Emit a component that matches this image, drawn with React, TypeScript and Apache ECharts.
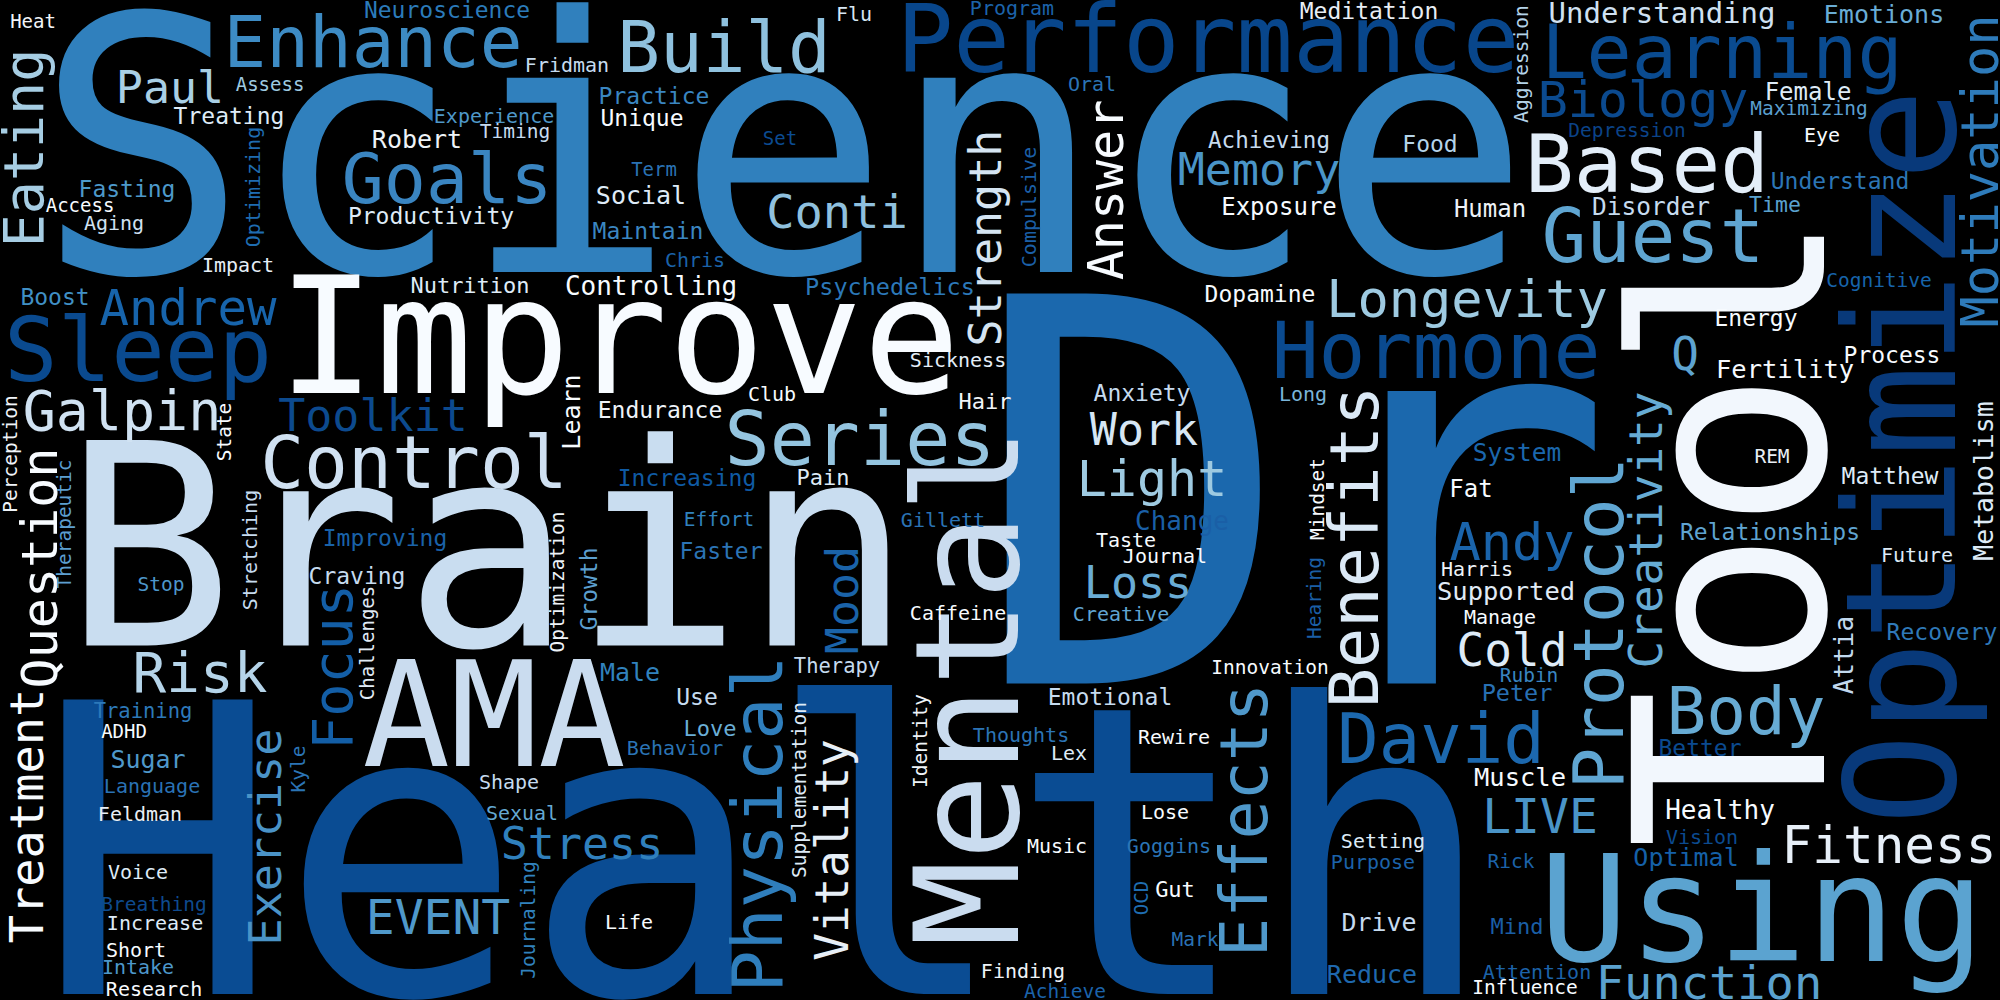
// Nuvem de palavras (Blues sobre fundo preto) desenhada como scatter sem simbolo:
// cada palavra eh um rotulo posicionado pelos eixos (ocultos) 0..2000 x 0..1000.
// Palavras grandes primeiro, pequenas por cima; as verticais sao giradas 90 graus.
import { useEffect, useRef } from 'react'
import * as echarts from 'echarts'

// [palavra, tamanho da fonte, x, y, cor]
type Palavra = [string, number, number, number, string]

const FONTE = '"DejaVu Sans Mono", monospace'

const GRANDES: Palavra[] = [
  ['Science', 355, 783, 149, '#3080bd'],
  ['Health', 404, 766, 854, '#0a4c93'],
  ['Brain', 282, 488, 548, '#c9ddf0'],
  ['Dr', 535, 1293, 498, '#1b68ad'],
  ['Improve', 162, 619, 337, '#f7fbff'],
  ['AMA', 146, 494, 715, '#cadcef'],
  ['Using', 148, 1762, 910, '#5ba3d0'],
  ['Performance', 94, 1208, 39, '#08468b'],
  ['Learning', 75, 1722, 52, '#0a4b90'],
  ['Based', 81, 1647, 164, '#e3eef9'],
  ['Hormone', 78, 1436, 351, '#0a4a8f'],
  ['Sleep', 89, 138, 350, '#0a4a8f'],
  ['Series', 75, 860, 439, '#94c4df'],
  ['Guest', 74, 1653, 236, '#5fa5d1'],
  ['Control', 73, 414, 462, '#d0e1f2'],
  ['Enhance', 71, 373, 42, '#3d8bc4'],
  ['Build', 71, 724, 47, '#8fc1de'],
  ['Goals', 70, 447, 179, '#3a85c1'],
  ['David', 69, 1441, 739, '#1c68ae'],
  ['Body', 66, 1746, 711, '#67abd4'],
]

// palavras grandes escritas de baixo para cima
const VERTICAIS_GRANDES: Palavra[] = [
  ['Tool', 265, 1732, 530, '#f2f7fd'],
  ['Optimize', 153, 1902, 457, '#08397a'],
  ['Mental', 144, 968, 687, '#cadcef'],
  ['Physical', 70, 758, 824, '#2f7ebc'],
  ['Protocol', 69, 1599, 623, '#60a6d2'],
  ['Benefits', 67, 1355, 547, '#dbe9f6'],
  ['Effects', 65, 1244, 820, '#4f98ca'],
]

const MEDIAS: Palavra[] = [
  ['Galpin', 55, 122, 411, '#d0e2f2'],
  ['Risk', 56, 200, 672, '#b5d4e9'],
  ['Longevity', 52, 1467, 299, '#9ecae1'],
  ['Andy', 52, 1512, 542, '#1a64ab'],
  ['Fitness', 51, 1889, 845, '#e7eff8'],
  ['Light', 50, 1152, 479, '#9ecae1'],
  ['Biology', 50, 1643, 100, '#0b4a8f'],
  ['Andrew', 49, 188, 308, '#1764ab'],
  ['EVENT', 48, 438, 917, '#4f98ca'],
  ['LIVE', 48, 1540, 816, '#4a94c7'],
  ['Conti', 47, 837, 211, '#8fc0de'],
  ['Function', 47, 1709, 982, '#5aa1cf'],
  ['Cold', 46, 1512, 650, '#deebf7'],
  ['Q', 46, 1685, 354, '#5ea3d0'],
  ['Paul', 45, 170, 87, '#a9cfe5'],
  ['Memory', 45, 1259, 169, '#4a95c8'],
  ['Toolkit', 45, 373, 415, '#0c4a8e'],
  ['Work', 45, 1144, 429, '#d6e6f4'],
  ['Loss', 45, 1138, 582, '#69acd5'],
  ['Stress', 45, 582, 843, '#3080bd'],
  ['Understanding', 29, 1662, 13, '#cfe1f2'],
]

const PEQUENAS_ESQ: Palavra[] = [
  ['Heat', 19, 33, 21, '#f2f5f9'],
  ['Neuroscience', 23, 447, 10, '#2b7bba'],
  ['Assess', 19, 270, 84, '#9ecae1'],
  ['Treating', 23, 229, 116, '#deebf7'],
  ['Robert', 25, 417, 139, '#eef3f8'],
  ['Fasting', 23, 127, 189, '#4d99ca'],
  ['Access', 19, 80, 205, '#f7fbff'],
  ['Aging', 20, 114, 223, '#d0e1f2'],
  ['Impact', 20, 238, 265, '#e6eef7'],
  ['Productivity', 23, 431, 216, '#deebf7'],
  ['Experience', 20, 494, 116, '#4f98c9'],
  ['Timing', 19.5, 515, 131, '#c6dbef'],
  ['Boost', 23, 55, 297, '#4090c5'],
  ['Nutrition', 22, 470, 285, '#deebf7'],
  ['Fridman', 20, 567, 65, '#c6dbef'],
  ['Flu', 20, 854, 14, '#d6e6f4'],
  ['Practice', 23, 654, 96, '#3a86c1'],
  ['Unique', 23, 642, 118, '#f7fbff'],
  ['Set', 19, 780, 138, '#0b4b91'],
  ['Term', 19, 654, 169, '#2a72b4'],
  ['Social', 25, 641, 195, '#deebf7'],
  ['Maintain', 23, 648, 231, '#3b86c1'],
  ['Chris', 20, 695, 260, '#1b62a8'],
  ['Controlling', 26, 651, 286, '#f7fbff'],
  ['Psychedelics', 23.5, 890, 287, '#2c78b8'],
  ['Improving', 23, 385, 538, '#1a62a8'],
  ['Craving', 23, 357, 576, '#c6dbef'],
  ['Stop', 19.5, 161, 584, '#4d97ca'],
  ['Sickness', 20, 958, 360, '#e3edf7'],
  ['Hair', 22, 985, 401, '#f0f4f8'],
  ['Club', 20, 772, 394, '#f7fbff'],
  ['Endurance', 23, 660, 410, '#eef3f9'],
  ['Increasing', 23, 687, 478, '#0f5aa3'],
  ['Pain', 22, 823, 477, '#deebf7'],
  ['Effort', 19.5, 719, 519, '#3182bd'],
  ['Faster', 23, 721, 551, '#2c74b5'],
  ['Gillett', 20, 943, 520, '#2a72b4'],
  ['Caffeine', 20, 958, 613, '#f7fbff'],
  ['Therapy', 20.5, 837, 666, '#c6dbef'],
  ['Training', 20.5, 143, 711, '#2d79b9'],
  ['ADHD', 19, 124, 731, '#f7fbff'],
  ['Sugar', 25, 148, 759, '#4f98ca'],
  ['Language', 20, 152, 786, '#2a72b4'],
  ['Feldman', 20, 140, 814, '#e8eef5'],
  ['Voice', 20, 138, 872, '#deebf7'],
  ['Breathing', 19.5, 154, 904, '#0e4a8e'],
  ['Increase', 20, 155, 923, '#deebf7'],
  ['Short', 20, 136, 950, '#f7fbff'],
  ['Intake', 20, 138, 967, '#4d97ca'],
  ['Research', 20, 154, 989, '#f7fbff'],
  ['Shape', 20, 509, 782, '#c6dbef'],
  ['Sexual', 20, 522, 813, '#64a9d3'],
  ['Male', 25, 630, 672, '#3182bd'],
  ['Use', 23, 697, 697, '#c6dbef'],
  ['Love', 22, 710, 728, '#6aaed6'],
  ['Behavior', 20, 675, 748, '#2b74b5'],
  ['Life', 20, 629, 922, '#f7fbff'],
]

const PEQUENAS_DIR: Palavra[] = [
  ['Oral', 20, 1092, 84, '#2b74b5'],
  ['Program', 20, 1012, 8, '#1c63aa'],
  ['Meditation', 23, 1369, 11, '#e8eef5'],
  ['Achieving', 22.5, 1269, 140, '#c6dbef'],
  ['Food', 23, 1430, 144, '#b5d4e9'],
  ['Exposure', 24, 1279, 207, '#f7fbff'],
  ['Human', 24, 1490, 209, '#eef3f8'],
  ['Dopamine', 23, 1260, 294, '#f7fbff'],
  ['Emotions', 25, 1884, 14, '#69acd5'],
  ['Female', 24, 1808, 92, '#deebf7'],
  ['Maximizing', 19.5, 1809, 108, '#5b9fcf'],
  ['Depression', 19.5, 1627, 130, '#0b4388'],
  ['Eye', 20, 1822, 135, '#f7fbff'],
  ['Understand', 23, 1840, 181, '#2c76b6'],
  ['Disorder', 24.5, 1651, 206, '#c6dbef'],
  ['Time', 21.5, 1775, 204, '#5aa2cf'],
  ['Cognitive', 19.5, 1879, 280, '#1764ab'],
  ['Energy', 23, 1756, 318, '#f7fbff'],
  ['Anxiety', 23, 1142, 393, '#c6dbef'],
  ['Long', 20, 1303, 394, '#7ab5da'],
  ['Change', 26, 1182, 521, '#1a5fa6'],
  ['Taste', 20, 1126, 540, '#f7fbff'],
  ['Journal', 20, 1165, 556, '#f7fbff'],
  ['Creative', 20, 1121, 614, '#60a5d2'],
  ['System', 24.5, 1517, 452, '#1b67ad'],
  ['Fat', 24, 1471, 489, '#f7fbff'],
  ['Harris', 20, 1477, 569, '#eef3f8'],
  ['Supported', 25.5, 1506, 591, '#e0ebf6'],
  ['Manage', 20, 1500, 617, '#f7fbff'],
  ['Innovation', 19.5, 1270, 667, '#f7fbff'],
  ['Fertility', 25.5, 1785, 369, '#f7fbff'],
  ['Process', 23, 1892, 355, '#f7fbff'],
  ['REM', 19.5, 1772, 456, '#e8eef5'],
  ['Matthew', 23, 1890, 476, '#deebf7'],
  ['Relationships', 23, 1770, 532, '#5fa4d1'],
  ['Future', 20, 1917, 555, '#deebf7'],
  ['Recovery', 23, 1942, 632, '#2f79b8'],
  ['Thoughts', 20, 1021, 735, '#2c74b5'],
  ['Finding', 20, 1023, 971, '#eef3f8'],
  ['Emotional', 23, 1110, 697, '#c6dbef'],
  ['Lex', 20, 1069, 753, '#deebf7'],
  ['Rewire', 20, 1174, 737, '#f7fbff'],
  ['Lose', 20, 1165, 812, '#f7fbff'],
  ['Music', 20, 1057, 846, '#f7fbff'],
  ['Goggins', 20, 1169, 846, '#2b75b6'],
  ['Gut', 22, 1175, 889, '#f7fbff'],
  ['Mark', 19.5, 1195, 939, '#2a72b4'],
  ['Achieve', 19.5, 1065, 991, '#1c63aa'],
  ['Setting', 20, 1383, 841, '#deebf7'],
  ['Purpose', 20, 1373, 862, '#1c63aa'],
  ['Drive', 25, 1379, 922, '#c6dbef'],
  ['Reduce', 25, 1372, 974, '#1f68ad'],
  ['Muscle', 25.5, 1520, 777, '#f7fbff'],
  ['Rick', 19.5, 1511, 861, '#1c63aa'],
  ['Mind', 22, 1517, 926, '#1a5ea5'],
  ['Attention', 20, 1537, 972, '#1c63aa'],
  ['Influence', 19.5, 1525, 987, '#f7fbff'],
  ['Peter', 23.5, 1517, 693, '#2870b3'],
  ['Rubin', 19.5, 1529, 675, '#3a86c1'],
  ['Better', 23, 1700, 748, '#0b4a8f'],
  ['Healthy', 26, 1720, 810, '#f7fbff'],
  ['Vision', 20, 1702, 837, '#0b4a8f'],
  ['Optimal', 25, 1686, 857, '#1560a8'],
]

const VERTICAIS_PEQUENAS: Palavra[] = [
  ['Eating', 55, 24, 148, '#a6cde3'],
  ['Focus', 55, 333, 667, '#135ea6'],
  ['Motivation', 52, 1980, 171, '#2e7bba'],
  ['Answer', 50, 1106, 190, '#f7fbff'],
  ['Question', 50, 40, 568, '#f7fbff'],
  ['Treatment', 47, 26, 816, '#f7fbff'],
  ['Creativity', 46, 1646, 530, '#66abd4'],
  ['Vitality', 46, 832, 850, '#e7eff7'],
  ['Strength', 45, 985, 238, '#d4e4f2'],
  ['Exercise', 45, 265, 837, '#4a93c7'],
  ['Mood', 45, 842, 600, '#1a63a9'],
  ['Metabolism', 26.5, 1983, 481, '#deebf7'],
  ['Attia', 26, 1844, 655, '#c2d9ee'],
  ['Learn', 25, 571, 412, '#f7fbff'],
  ['Growth', 23, 589, 589, '#5c9fcf'],
  ['Optimizing', 20, 253, 187, '#1f6db1'],
  ['Compulsive', 20, 1029, 207, '#1b5fa6'],
  ['Aggression', 19.5, 1521, 64, '#b4d3e8'],
  ['Perception', 19.5, 10, 454, '#f0f4f9'],
  ['Therapeutic', 19.5, 64, 524, '#5d9fd0'],
  ['State', 19.5, 224, 432, '#f7fbff'],
  ['Stretching', 20, 250, 550, '#c6dbef'],
  ['Challenges', 19, 367, 643, '#e0ebf5'],
  ['Optimization', 19.5, 557, 582, '#eef3f8'],
  ['Mindset', 19.5, 1317, 499, '#f7fbff'],
  ['Hearing', 19.5, 1314, 598, '#1b5fa6'],
  ['Kyle', 19.5, 298, 769, '#2b74b5'],
  ['Journaling', 19.5, 528, 920, '#3182bd'],
  ['Supplementation', 19.5, 799, 790, '#deebf7'],
  ['Identity', 19.5, 920, 741, '#eef3f8'],
  ['OCD', 19, 1141, 898, '#1f6db1'],
]

const paraDados = (lista: Palavra[]) =>
  lista.map(([palavra, tamanho, x, y, cor]) => ({
    name: palavra,
    value: [x, y],
    label: { fontSize: tamanho, color: cor },
  }))

// o scatter usa opacidade 0.8 por padrao e o rotulo herda isso: forca 1
const serie = (lista: Palavra[], rotacao: number, z: number) => ({
  type: 'scatter',
  z,
  data: paraDados(lista),
  symbolSize: 1,
  silent: true,
  clip: false,
  itemStyle: { color: 'rgba(0,0,0,0)', opacity: 1 },
  emphasis: { disabled: true },
  label: {
    show: true,
    position: 'inside',
    formatter: '{b}',
    fontFamily: FONTE,
    align: 'center',
    verticalAlign: 'middle',
    rotate: rotacao,
    opacity: 1,
  },
})

export default function App() {
  const containerRef = useRef<HTMLDivElement>(null)

  useEffect(() => {
    if (!containerRef.current) return
    const instancia = echarts.init(containerRef.current, undefined, { renderer: 'svg' })

    instancia.setOption({
      animation: false,
      backgroundColor: '#000000',
      grid: { left: 0, right: 0, top: 0, bottom: 0 },
      xAxis: { type: 'value', min: 0, max: 2000, show: false },
      yAxis: { type: 'value', min: 0, max: 1000, inverse: true, show: false },
      series: [
        serie(GRANDES, 0, 1),
        serie(VERTICAIS_GRANDES, 90, 1),
        serie([...MEDIAS, ...PEQUENAS_ESQ, ...PEQUENAS_DIR], 0, 2),
        serie(VERTICAIS_PEQUENAS, 90, 2),
      ],
    })

    return () => instancia.dispose()
  }, [])

  return (
    <div
      ref={containerRef}
      style={{ position: 'fixed', left: 0, top: 0, width: 2000, height: 1000, background: '#000' }}
    />
  )
}
